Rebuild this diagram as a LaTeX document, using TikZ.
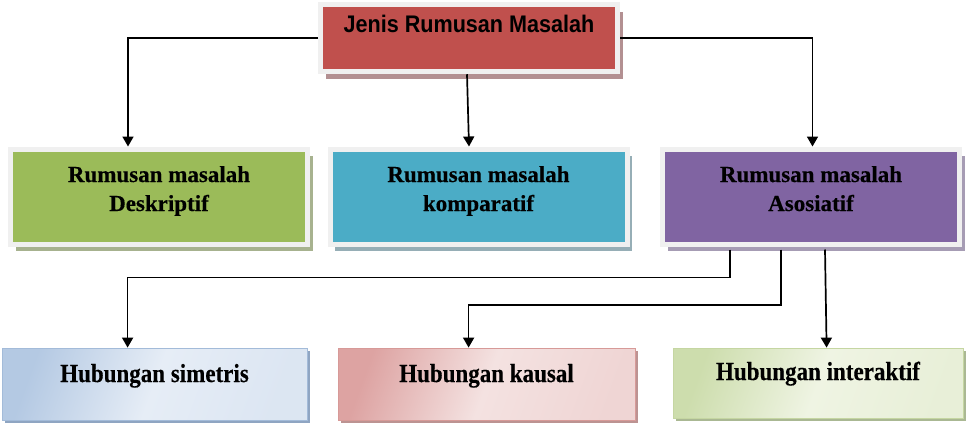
\documentclass[tikz,border=0pt]{standalone}
\usepackage{fontspec}
\setmainfont{Liberation Serif}
\newfontfamily\arialn[FakeStretch=0.9]{Liberation Sans}
\newfontfamily\serifb[BoldFeatures={FakeBold=0.4}]{Liberation Serif}
\newfontfamily\serifbc[FakeStretch=0.885,BoldFeatures={FakeBold=0.4}]{Liberation Serif}
\usetikzlibrary{arrows.meta,shadows}
\definecolor{frameC}{HTML}{F0F0F0}
\definecolor{redF}{HTML}{C0504D}
\definecolor{redS}{HTML}{B39092}
\definecolor{greenF}{HTML}{9BBB59}
\definecolor{greenS}{HTML}{A7B28F}
\definecolor{blueF}{HTML}{4BACC6}
\definecolor{blueS}{HTML}{96AEB6}
\definecolor{purpF}{HTML}{8064A2}
\definecolor{purpS}{HTML}{A69CB4}
\definecolor{lbDark}{HTML}{B4C9E3}
\definecolor{lbLight}{HTML}{E6EDF6}
\definecolor{lbEdge}{HTML}{A3BBD9}
\definecolor{lbShadow}{HTML}{8FA5C2}
\definecolor{lpDark}{HTML}{DDA3A2}
\definecolor{lpLight}{HTML}{F4E2E1}
\definecolor{lpEdge}{HTML}{D79A98}
\definecolor{lpShadow}{HTML}{BC9392}
\definecolor{lgDark}{HTML}{CDDDAD}
\definecolor{lgLight}{HTML}{EFF4E3}
\definecolor{lgEdge}{HTML}{C5D6A2}
\definecolor{lgShadow}{HTML}{AAB893}
\begin{document}
\begin{tikzpicture}[x=1pt,y=-1pt,
  mainbox/.style={draw=frameC, line width=5pt, inner sep=0pt,
    minimum width=297pt, minimum height=95pt, text height=33pt, text depth=62pt,
    font=\serifb\fontsize{23}{29}\selectfont\bfseries},
  subbox/.style={draw=#1Edge, line width=0.8pt, inner sep=0pt,
    minimum height=72pt, text height=34pt, text depth=38pt,
    left color=#1Dark, right color=#1Light!80!#1Dark, middle color=#1Light, shading angle=70,
    drop shadow={shadow xshift=3pt, shadow yshift=-3pt, fill=#1Shadow, opacity=1},
    font=\serifbc\fontsize{26}{30}\selectfont\bfseries},
  bigshadow/.style={drop shadow={shadow xshift=5pt, shadow yshift=-7pt, fill=#1, opacity=1}},
  arr/.style={line width=1.7pt, -{Triangle[width=11pt,length=10pt]}}]
\useasboundingbox (0,0) rectangle (966,426);

% top box
\node[mainbox, fill=redF, bigshadow=redS, minimum height=67pt, text height=28pt, text depth=39pt,
      font=\arialn\fontsize{24}{28}\selectfont\bfseries] (top) at (469,38.25) {Jenis Rumusan Masalah};

% second row
\node[mainbox, fill=greenF, bigshadow=greenS] (desk) at (159,196.5)
  {\begin{tabular}[t]{@{}c@{}}Rumusan masalah\\Deskriptif\end{tabular}};
\node[mainbox, fill=blueF, bigshadow=blueS] (komp) at (478.5,196.5)
  {\begin{tabular}[t]{@{}c@{}}Rumusan masalah\\komparatif\end{tabular}};
\node[mainbox, fill=purpF, bigshadow=purpS] (asos) at (811,196.5)
  {\begin{tabular}[t]{@{}c@{}}Rumusan masalah\\Asosiatif\end{tabular}};

% third row
\node[subbox=lb, minimum width=305pt] (sim) at (154.5,384) {Hubungan simetris};
\node[subbox=lp, minimum width=297pt] (kau) at (486.5,384) {Hubungan kausal};
\node[subbox=lg, minimum width=290pt, minimum height=70pt, text height=32pt, text depth=38pt] (int) at (818,383) {Hubungan interaktif};

% connectors
\draw[arr] (top.west) -| ([xshift=120pt]desk.north west);
\draw[arr] ([xshift=-2pt]top.south) -- ([xshift=-9.5pt]komp.north);
\draw[arr] (top.east) -| ([xshift=152.5pt]asos.north west);

\draw[arr] ([xshift=70pt,yshift=-3pt]asos.south west) -- ++(0,28) -| ([xshift=126pt]sim.north west);
\draw[arr] ([xshift=121pt,yshift=-3pt]asos.south west) -- ++(0,55.5) -| ([xshift=131pt]kau.north west);
\draw[arr] ([xshift=165pt,yshift=-3pt]asos.south west) -- ([xshift=154pt]int.north west);
\end{tikzpicture}
\end{document}
